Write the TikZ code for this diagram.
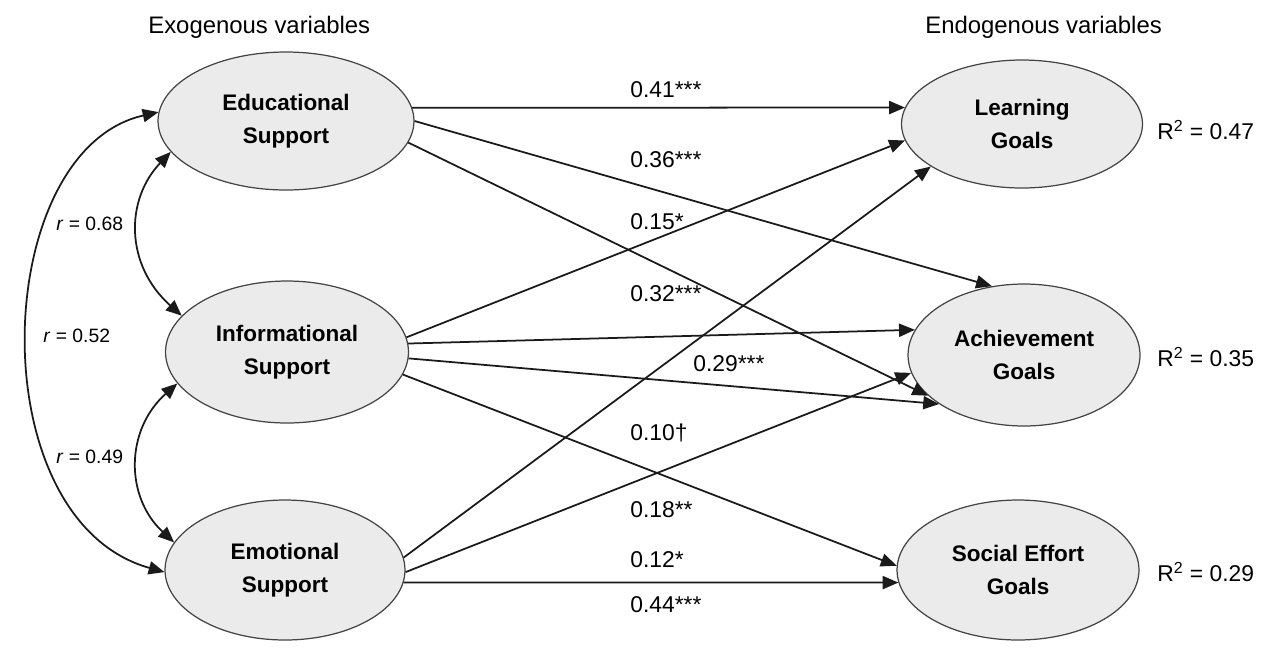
\documentclass[tikz,border=0pt]{standalone}
\usepackage{fontspec}
\setmainfont{Liberation Sans}
\usepackage{xcolor}
\usetikzlibrary{arrows.meta,shapes.geometric}
\definecolor{latentfill}{HTML}{EBEBEB}
\definecolor{latentdraw}{HTML}{444444}
\definecolor{pathink}{HTML}{1A1A1A}

\begin{document}
\begin{tikzpicture}[
    x=0.02cm, y=-0.02cm,
    exo/.style={ellipse,draw=latentdraw,line width=0.7pt,fill=latentfill,
                minimum width=4.86cm,minimum height=2.8cm,align=center,
                font=\fontsize{12.8}{19}\selectfont\bfseries},
    endo/.style={exo,minimum width=4.84cm},
    effect/.style={-{Triangle[length=9pt,width=7.5pt]},line width=1pt,pathink},
    corr/.style={{Triangle[length=9pt,width=7.5pt]}-{Triangle[length=9pt,width=7.5pt]},
                 line width=1pt,pathink},
    coef/.style={anchor=base west,inner sep=0pt,font=\fontsize{13}{15}\selectfont},
    rlab/.style={anchor=base west,inner sep=0pt,font=\fontsize{11}{13}\selectfont},
    header/.style={anchor=base west,inner sep=0pt,font=\fontsize{13.6}{16}\selectfont}
  ]
    \useasboundingbox (0,0) rectangle (1274,647);

    % headings
    \node[header] (hexo) at (148,33) {Exogenous variables};
    \node[header] (hendo) at (925,33) {Endogenous variables};

    % latent variables
    \node[exo,minimum width=5.12cm,minimum height=2.76cm] (edu) at (286,121) {Educational\\Support};
    \node[exo,minimum height=2.84cm] (info) at (287,352) {Informational\\Support};
    \node[exo,minimum width=4.8cm] (emo) at (285,570) {Emotional\\Support};

    \node[endo,minimum width=4.82cm,minimum height=2.56cm] (learn) at (1022,124) {Learning\\Goals};
    \node[endo,minimum width=4.64cm,minimum height=2.84cm] (ach) at (1024,355) {Achievement\\Goals};
    \node[endo] (soc) at (1018,570) {Social Effort\\Goals};

    % explained variance
    \node[coef] (r2learn) at (1157,139) {R\textsuperscript{2} = 0.47};
    \node[coef] (r2ach) at (1157,366) {R\textsuperscript{2} = 0.35};
    \node[coef] (r2soc) at (1157,581) {R\textsuperscript{2} = 0.29};

    % paths
    \draw[effect] (edu.6) -- (learn.172);
    \draw[effect] (edu.0) -- (ach.115);
    \draw[effect] (edu.-10) -- (ach.203);
    \draw[effect] (info.7) -- (learn.188);
    \draw[effect] (info.4) -- (ach.167);
    \draw[effect] (info.-3) -- (ach.210);
    \draw[effect] (info.-11) -- (soc.178);
    \draw[effect] (emo.6) -- (learn.205);
    \draw[effect] (emo.-1) -- (ach.189);
    \draw[effect] (emo.-6) -- (soc.186);

    % path coefficients
    \node[coef] (c41) at (630,97) {0.41***};
    \node[coef] (c36) at (630,167) {0.36***};
    \node[coef] (c15) at (630,229) {0.15*};
    \node[coef] (c32) at (630,301) {0.32***};
    \node[coef] (c29) at (693,371) {0.29***};
    \node[coef] (c10) at (630,440) {0.10\textdagger};
    \node[coef] (c18) at (630,517) {0.18**};
    \node[coef] (c12) at (630,567) {0.12*};
    \node[coef] (c44) at (630,612) {0.44***};

    % correlations
    \draw[corr] (edu.195) .. controls (125,200) and (125,265) .. (info.161);
    \draw[corr] (info.196) .. controls (125,430) and (125,497) .. (emo.166);
    \draw[corr] (edu.176) .. controls (-10,150) and (-22,520) .. (emo.181);
    \node[rlab] (r68) at (56,230) {\textit{r} = 0.68};
    \node[rlab] (r52) at (43,342) {\textit{r} = 0.52};
    \node[rlab] (r49) at (56,463) {\textit{r} = 0.49};
  \end{tikzpicture}
\end{document}
